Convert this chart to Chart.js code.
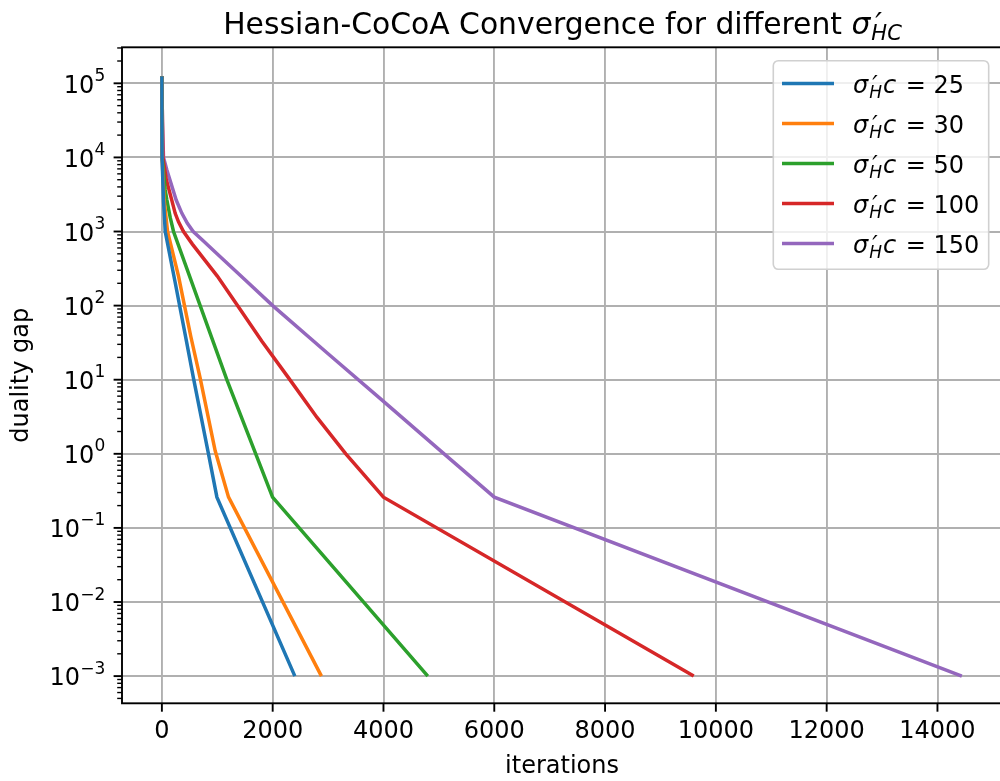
<!DOCTYPE html>
<html>
<head>
<meta charset="utf-8">
<title>Hessian-CoCoA Convergence</title>
<script src="https://cdn.jsdelivr.net/npm/chart.js@4.4.0/dist/chart.umd.min.js"></script>
<style>
    html, body { margin: 0; padding: 0; background: #fff; overflow: hidden; }
    #wrap { width: 1010px; height: 781px; }
</style>
</head>
<body>
<div id="wrap"><canvas id="gapChart" width="1010" height="781"></canvas></div>
<script>
// --- data ---
const sigmas = [25, 30, 50, 100, 150];
const colors = ["#1f77b4", "#ff7f0e", "#2ca02c", "#d62728", "#9467bd"];

const iters25 = [0, 3, 29, 60, 240, 439, 570, 841, 993, 2400];
const gap25 = [1.25e5, 1e4, 2660, 1000, 205, 34.4, 10.5, 1.0, 0.26, 0.001];

const iters30 = [0, 3, 41, 102, 300, 408, 523, 691, 962, 1203, 2880];
const gap30 = [1.25e5, 1e4, 2660, 1000, 250, 100, 38, 10.5, 1.1, 0.26, 0.001];

const iters50 = [0, 5, 60, 90, 150, 210, 511, 691, 1172, 1694, 1997, 4800];
const gap50 = [1.25e5, 1e4, 3630, 2660, 1550, 1000, 237, 100, 10, 1.0, 0.26, 0.001];

const iters100 = [0, 18, 80, 170, 240, 300, 390, 550, 1000, 1365, 1805, 2290, 2800, 3320, 4000, 9600];
const gap100 = [1.25e5, 1e4, 5000, 2800, 1760, 1350, 1000, 676, 250, 100, 33, 10.5, 3.1, 1.0, 0.26, 0.001];

const iters150 = [0, 10, 29, 90, 258, 361, 460, 565, 750, 1000, 1500, 2000, 3000, 4000, 5000, 6000, 14440];
const gap150 = [1.25e5, 3e4, 1e4, 6760, 2660, 1760, 1290, 1000, 743, 498, 223, 100, 22.4, 5.1, 1.15, 0.26, 0.001];

const xTicks = [0, 2000, 4000, 6000, 8000, 10000, 12000, 14000];
const yExponents = [-3, -2, -1, 0, 1, 2, 3, 4, 5];

const series = [
    [iters25, gap25],
    [iters30, gap30],
    [iters50, gap50],
    [iters100, gap100],
    [iters150, gap150],
];

const FONT = "'DejaVu Sans', sans-serif";

// ticks, spines, title, axis labels and the legend (drawn by hand so the math labels get subscripts)
const axesDecor = {
    id: "axesDecor",
    afterDraw(chart) {
        const { ctx, chartArea: a, scales: { x, y } } = chart;
        ctx.save();

        // spines
        ctx.strokeStyle = "#000";
        ctx.lineWidth = 1.9;
        ctx.strokeRect(a.left, a.top, a.right - a.left, a.bottom - a.top);

        // x ticks
        xTicks.forEach(v => {
            const px = x.getPixelForValue(v);
            ctx.beginPath();
            ctx.moveTo(px, a.bottom);
            ctx.lineTo(px, a.bottom + 8.4);
            ctx.stroke();
        });

        // y ticks, major + minor
        for (let e = -4; e <= 5; e++) {
            for (let m = 1; m <= 9; m++) {
                const v = m * Math.pow(10, e);
                if (v < y.min || v > y.max) continue;
                const py = y.getPixelForValue(v);
                ctx.lineWidth = m === 1 ? 1.9 : 1.4;
                ctx.beginPath();
                ctx.moveTo(a.left, py);
                ctx.lineTo(a.left - (m === 1 ? 8.4 : 4.8), py);
                ctx.stroke();
            }
        }

        // y tick labels 10^e
        ctx.fillStyle = "#000";
        ctx.textBaseline = "alphabetic";
        yExponents.forEach(e => {
            const py = y.getPixelForValue(Math.pow(10, e));
            const expText = e < 0 ? "\u2212" + (-e) : String(e);
            ctx.font = "17px " + FONT;
            const wExp = ctx.measureText(expText).width;
            ctx.font = "24px " + FONT;
            const wBase = ctx.measureText("10").width;
            const right = a.left - 16.8;
            ctx.textAlign = "left";
            ctx.fillText("10", right - wExp - wBase, py + 9.2);
            ctx.font = "17px " + FONT;
            ctx.fillText(expText, right - wExp, py - 2.5);
        });

        // axis labels
        ctx.font = "24px " + FONT;
        ctx.textAlign = "center";
        ctx.textBaseline = "middle";
        ctx.fillText("iterations", (a.left + a.right) / 2, 767);
        ctx.save();
        ctx.translate(22, (a.top + a.bottom) / 2);
        ctx.rotate(-Math.PI / 2);
        ctx.fillText("duality gap", 0, 0);
        ctx.restore();

        // title with sigma'_HC (prime and subscript share the same x after sigma)
        const titleParts = [
            { t: "Hessian-CoCoA Convergence for different ", f: "29.8px " + FONT, dy: 0 },
            { t: "\u03c3", f: "italic 29.8px " + FONT, dy: 0 },
            { t: "\u2032", f: "italic 29.8px " + FONT, dy: 0, dx: 5, adv: 0 },
            { t: "HC", f: "italic 21px " + FONT, dy: 6, dx: 1 },
        ];
        drawParts(ctx, titleParts, (a.left + a.right) / 2, 34, true);

        // legend
        const box = { l: 773.3, t: 60.7, r: 988.7, b: 269.3 };
        ctx.beginPath();
        ctx.roundRect(box.l, box.t, box.r - box.l, box.b - box.t, 5);
        ctx.fillStyle = "rgba(255,255,255,0.8)";
        ctx.fill();
        ctx.strokeStyle = "#d0d0d0";
        ctx.lineWidth = 1.6;
        ctx.stroke();

        chart.data.datasets.forEach((ds, i) => {
            const cy = 83.5 + i * 40;
            ctx.strokeStyle = ds.borderColor;
            ctx.lineWidth = 3.5;
            ctx.beginPath();
            ctx.moveTo(782, cy);
            ctx.lineTo(834, cy);
            ctx.stroke();
            ctx.fillStyle = "#000";
            const parts = [
                { t: "\u03c3", f: "italic 24px " + FONT, dy: 0 },
                { t: "\u2032", f: "italic 24px " + FONT, dy: 0, dx: 4, adv: 0 },
                { t: "H", f: "italic 17px " + FONT, dy: 5, dx: 1, extra: 2 },
                { t: "c", f: "italic 24px " + FONT, dy: 0 },
                { t: " = " + sigmas[i], f: "24px " + FONT, dy: 0, dx: 2 },
            ];
            drawParts(ctx, parts, 853, cy + 9, false);
        });

        ctx.restore();
    }
};

function drawParts(ctx, parts, x0, baseline, centered) {
    ctx.textAlign = "left";
    ctx.textBaseline = "alphabetic";
    let total = 0;
    parts.forEach(p => {
        ctx.font = p.f;
        p.w = p.adv !== undefined ? p.adv : ctx.measureText(p.t).width + (p.extra || 0);
        total += p.w;
    });
    let x = centered ? x0 - total / 2 : x0;
    parts.forEach(p => {
        ctx.font = p.f;
        ctx.fillText(p.t, x + (p.dx || 0), baseline + p.dy);
        x += p.w;
    });
}

document.addEventListener("DOMContentLoaded", () => {
    const canvas = document.getElementById("gapChart");

    new Chart(canvas, {
        type: "line",
        data: {
            datasets: series.map(([xs, ys], i) => ({
                label: "sigma " + sigmas[i],
                data: xs.map((t, k) => ({ x: t, y: ys[k] })),
                borderColor: colors[i],
                backgroundColor: colors[i],
                borderWidth: 3.5,
                pointRadius: 0,
                tension: 0,
                fill: false
            }))
        },
        options: {
            responsive: false,
            animation: false,
            devicePixelRatio: 1,
            layout: { padding: { top: 47.3, right: 8, bottom: 0, left: 0 } },
            plugins: {
                legend: { display: false },
                title: { display: false },
                tooltip: { enabled: false }
            },
            scales: {
                x: {
                    type: "linear",
                    min: -720,
                    max: 15165,
                    afterBuildTicks: scale => { scale.ticks = xTicks.map(v => ({ value: v })); },
                    afterFit: scale => { scale.height = 781 - 703.3; },
                    grid: { color: "#b0b0b0", lineWidth: 1.9, drawTicks: false },
                    border: { display: false },
                    ticks: {
                        color: "#000",
                        font: { family: "DejaVu Sans", size: 24 },
                        padding: 14,
                        maxRotation: 0,
                        autoSkip: false,
                        callback: v => String(v)
                    }
                },
                y: {
                    type: "logarithmic",
                    min: Math.pow(10, -3.367),
                    max: Math.pow(10, 5.486),
                    afterBuildTicks: scale => {
                        scale.ticks = yExponents.map(e => ({ value: Math.pow(10, e) }));
                    },
                    afterFit: scale => { scale.width = 122; },
                    grid: { color: "#b0b0b0", lineWidth: 1.9, drawTicks: false },
                    border: { display: false },
                    ticks: { display: false }
                }
            }
        },
        plugins: [axesDecor]
    });
});
</script>
</body>
</html>
